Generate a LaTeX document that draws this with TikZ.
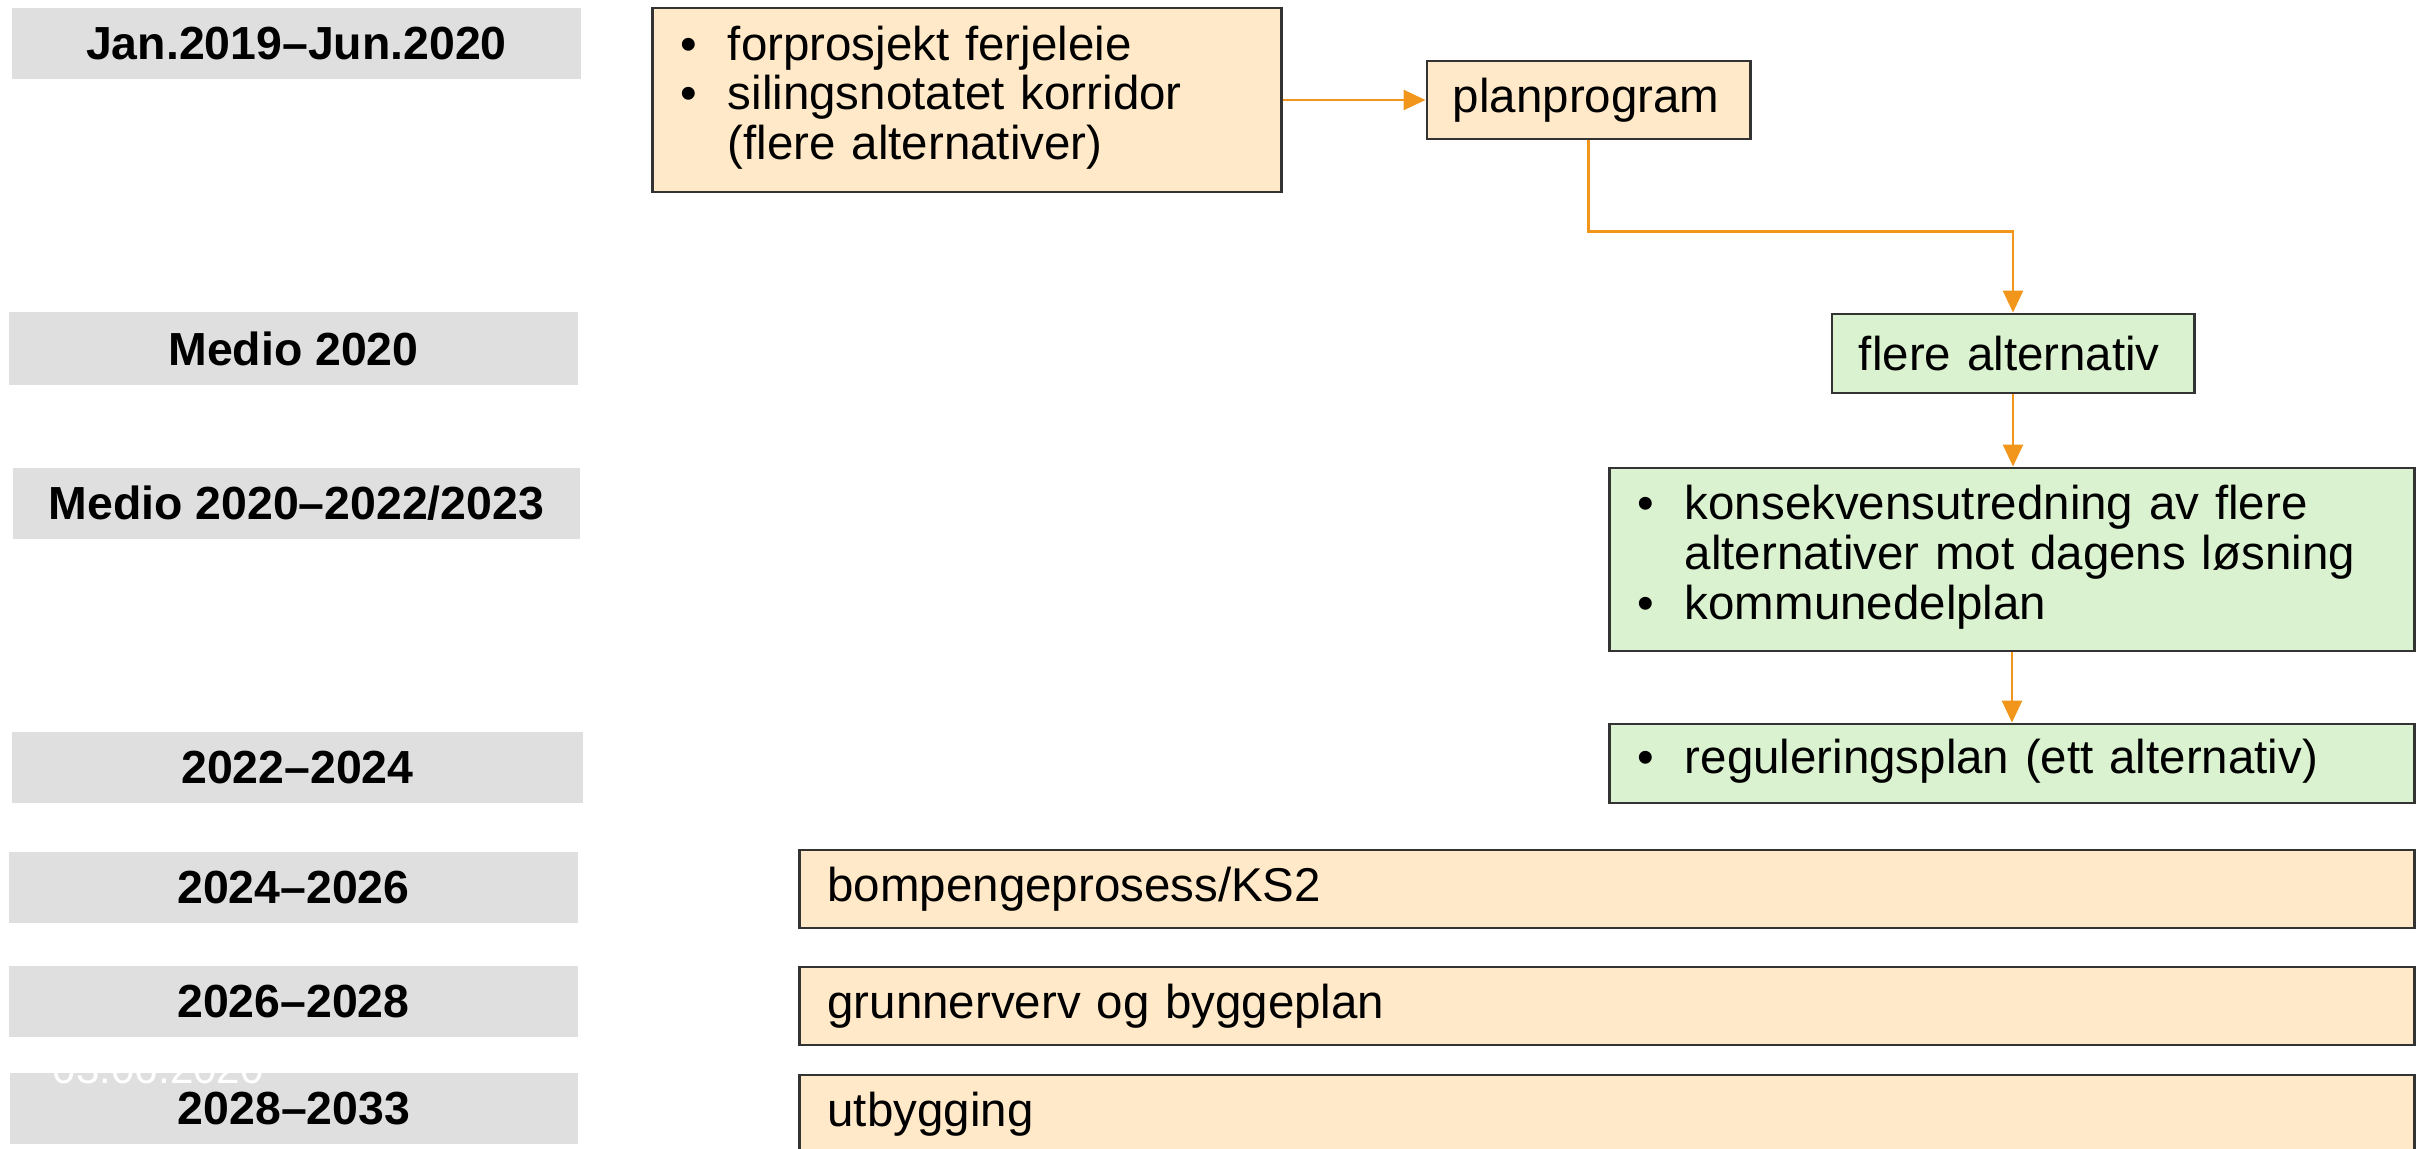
\documentclass[tikz,border=0pt]{standalone}
\usepackage{fontspec}
\setmainfont{Liberation Sans}
\usetikzlibrary{arrows.meta}
\definecolor{labelgray}{HTML}{DFDFDF}
\definecolor{boxorange}{HTML}{FFE9C8}
\definecolor{boxgreen}{HTML}{DAF2D0}
\definecolor{arroworange}{HTML}{F2961B}
\definecolor{edgegray}{HTML}{333333}
\setlength{\parindent}{0pt}
\hyphenpenalty=10000
\exhyphenpenalty=10000
\newcommand{\blist}[1]{\begin{tabular}{@{}p{0.47cm}@{}l@{}}#1\end{tabular}}
\begin{document}
\begin{tikzpicture}[x=0.01cm,y=-0.01cm,
  period/.style={fill=labelgray, inner sep=0pt, font=\fontsize{13.2}{15}\selectfont\bfseries},
  task/.style={draw=edgegray, line width=0.028cm, inner ysep=0pt, inner xsep=0.28cm, align=left, font=\fontsize{13.5}{14.2}\selectfont},
  obox/.style={task, fill=boxorange},
  gbox/.style={task, fill=boxgreen},
  flow/.style={draw=arroworange, line width=0.025cm, -{Triangle[length=0.22cm,width=0.2cm]}}]
\useasboundingbox (0,0) rectangle (2417,1149);
% period labels
\node[period, minimum width=5.69cm, minimum height=0.71cm] (p1) at (296.5,43.5) {Jan.2019–Jun.2020};
\node[period, minimum width=5.69cm, minimum height=0.73cm] (p2) at (293.5,348.5) {Medio 2020};
\node[period, minimum width=5.67cm, minimum height=0.71cm] (p3) at (296.5,503.5) {Medio 2020–2022/2023};
\node[period, minimum width=5.71cm, minimum height=0.71cm] (p4) at (297.5,767.5) {2022–2024};
\node[period, minimum width=5.69cm, minimum height=0.71cm] (p5) at (293.5,887.5) {2024–2026};
\node[period, minimum width=5.69cm, minimum height=0.71cm] (p6) at (293.5,1001.5) {2026–2028};
\node[period, minimum width=5.68cm, minimum height=0.71cm] (p7) at (294,1108.5) {2028–2033};
\node[anchor=base west, inner sep=0pt, text=white, font=\fontsize{12}{12}\selectfont] (date) at (52,1083) {03.06.2020};
% tasks
\node[obox, minimum width=6.28cm, minimum height=1.84cm, text width=5.72cm] (A) at (967,100)
  {\blist{\textbullet & forprosjekt ferjeleie\\ \textbullet & silingsnotatet korridor\\ & (flere alternativer)}};
\node[obox, minimum width=3.23cm, minimum height=0.78cm, text width=2.71cm, inner xsep=0.26cm] (plan) at (1588.5,100) {planprogram};
\node[gbox, minimum width=3.62cm, minimum height=0.79cm, text width=3.08cm, inner xsep=0.27cm] (alt) at (2013,353.5) {flere alternativ};
\node[gbox, minimum width=8.04cm, minimum height=1.83cm, text width=7.48cm] (kons) at (2012,559.5)
  {\blist{\textbullet & konsekvensutredning av flere\\ & alternativer mot dagens løsning\\ \textbullet & kommunedelplan}};
\node[gbox, minimum width=8.04cm, minimum height=0.79cm, text width=7.48cm] (reg) at (2012,763.5)
  {\blist{\textbullet & reguleringsplan (ett alternativ)}};
\node[obox, minimum width=16.14cm, minimum height=0.78cm, text width=15.58cm] (bom) at (1607,889) {bompengeprosess/KS2};
\node[obox, minimum width=16.14cm, minimum height=0.78cm, text width=15.58cm] (grunn) at (1607,1006) {grunnerverv og byggeplan};
\node[obox, minimum width=16.14cm, minimum height=0.78cm, text width=15.58cm] (utb) at (1607,1114) {utbygging};
% connectors
\draw[flow] (A.east) -- (plan.west);
\draw[flow] (plan.south) -- ++(0,91) -| (alt.north);
\draw[flow] (alt.south) -- (alt.south |- kons.north);
\draw[flow] (kons.south) -- (kons.south |- reg.north);
\end{tikzpicture}
\end{document}
